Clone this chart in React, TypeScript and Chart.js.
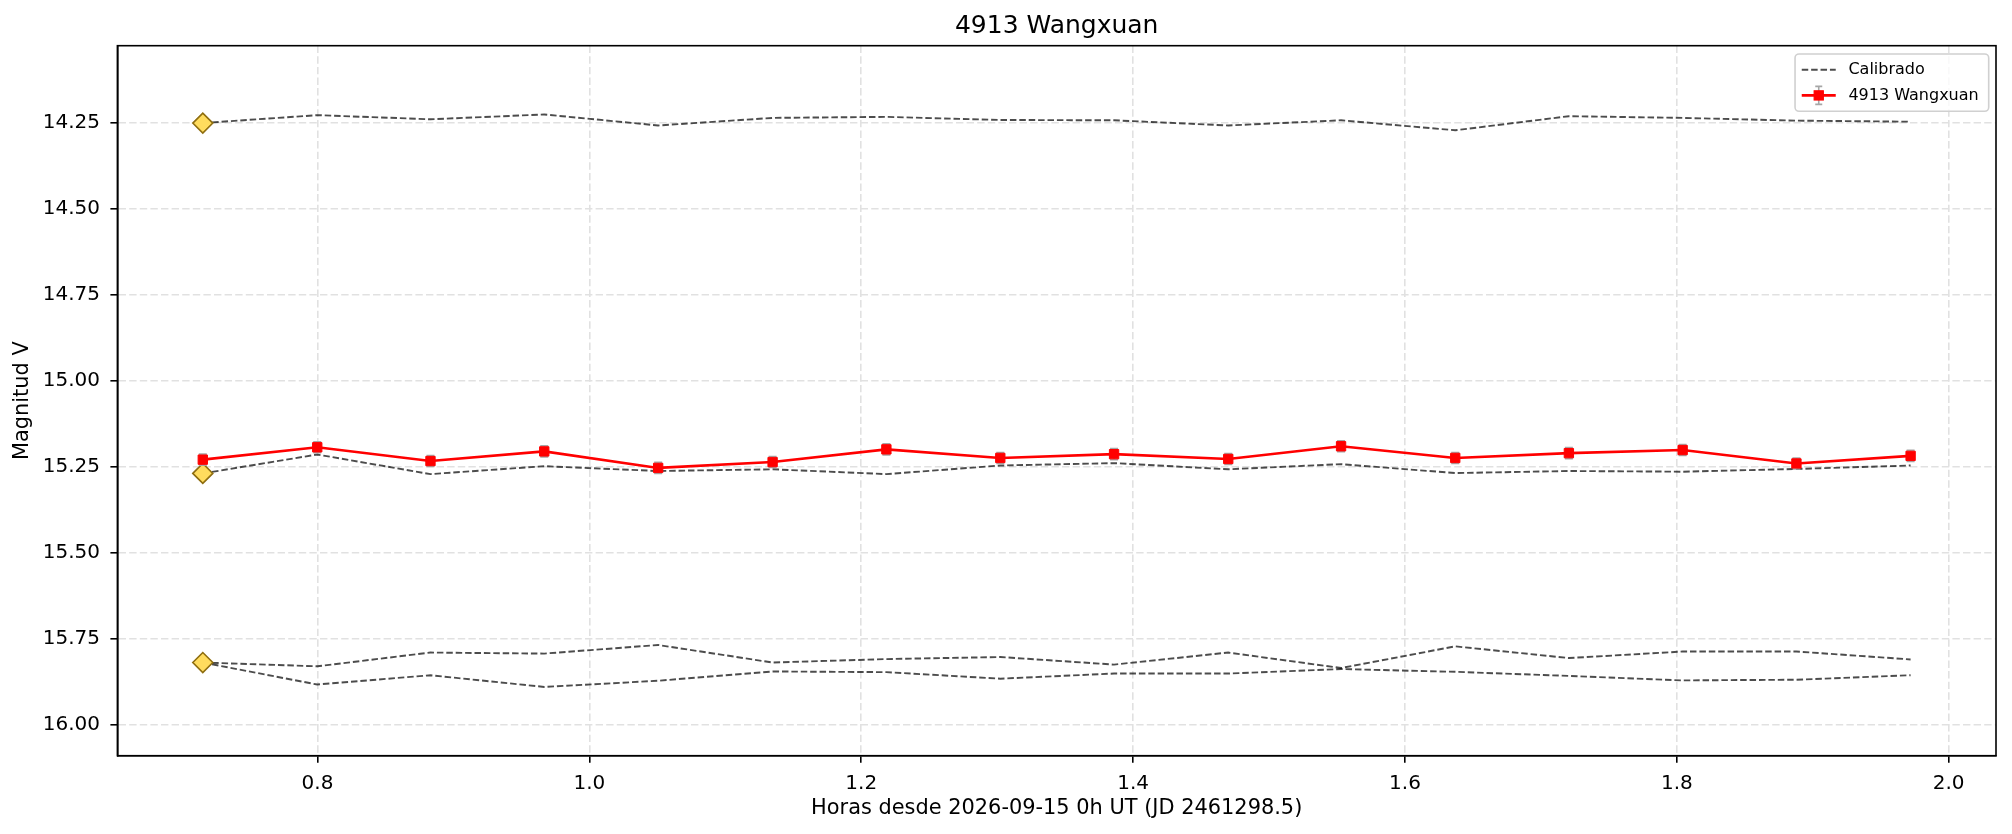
import { useEffect, useRef } from 'react';
import { Chart, registerables } from 'chart.js';

Chart.register(...registerables);

const FONT = "'DejaVu Sans', 'Liberation Sans', sans-serif";

// hours since 2026-09-15 0h UT
const hours = [0.7156, 0.7998, 0.8831, 0.9668, 1.0506, 1.1348, 1.2185, 1.3023, 1.386, 1.47, 1.553, 1.637, 1.7206, 1.8043, 1.888, 1.972];

// 4913 Wangxuan
const targetMag = [15.230, 15.194, 15.234, 15.206, 15.254, 15.237, 15.200, 15.225, 15.214, 15.228, 15.191, 15.225, 15.211, 15.202, 15.241, 15.219];
const targetErr = [0.016, 0.016, 0.016, 0.016, 0.016, 0.016, 0.016, 0.016, 0.016, 0.016, 0.016, 0.016, 0.016, 0.016, 0.016, 0.016];

// calibrated comparison stars
const calTop = [14.251, 14.228, 14.240, 14.226, 14.258, 14.236, 14.233, 14.242, 14.243, 14.258, 14.243, 14.272, 14.231, 14.236, 14.244, 14.247];
const calMid = [15.270, 15.215, 15.272, 15.249, 15.263, 15.258, 15.272, 15.247, 15.240, 15.258, 15.243, 15.269, 15.263, 15.265, 15.257, 15.247];
const calLowA = [15.820, 15.831, 15.791, 15.794, 15.769, 15.820, 15.810, 15.804, 15.826, 15.791, 15.836, 15.773, 15.807, 15.788, 15.788, 15.811];
const calLowB = [15.820, 15.884, 15.857, 15.891, 15.873, 15.846, 15.848, 15.867, 15.852, 15.852, 15.839, 15.847, 15.859, 15.872, 15.870, 15.857];

const CAL_COLOR = 'rgba(0,0,0,0.7)';
const TARGET_COLOR = '#ff0000';
const ERR_COLOR = '#a6a6a6';
const GRID_COLOR = '#e1e1e1';

const toPoints = (ys: number[]) => ys.map((y, i) => ({ x: hours[i], y }));

const allMags = [...targetMag, ...calTop, ...calMid, ...calLowA, ...calLowB];
const yMin = Math.min(...allMags) - 0.2;
const yMax = Math.max(...allMags) + 0.2;
const xSpan = hours[hours.length - 1] - hours[0];
const xMin = hours[0] - 0.05 * xSpan;
const xMax = hours[hours.length - 1] + 0.05 * xSpan;

const extras = {
    id: 'extras',
    beforeDatasetDraw(chart: any, args: any) {
        const ds = chart.data.datasets[args.index];
        if (!ds.errors) return;
        const { ctx, scales } = chart;
        ctx.save();
        ctx.strokeStyle = ERR_COLOR;
        ctx.lineWidth = 1.6;
        hours.forEach((h, i) => {
            const px = scales.x.getPixelForValue(h);
            const y1 = scales.y.getPixelForValue(targetMag[i] - ds.errors[i]);
            const y2 = scales.y.getPixelForValue(targetMag[i] + ds.errors[i]);
            ctx.beginPath();
            ctx.moveTo(px, y1);
            ctx.lineTo(px, y2);
            ctx.moveTo(px - 4, y1);
            ctx.lineTo(px + 4, y1);
            ctx.moveTo(px - 4, y2);
            ctx.lineTo(px + 4, y2);
            ctx.stroke();
        });
        ctx.restore();
    },
    afterDraw(chart: any) {
        const { ctx, chartArea } = chart;
        ctx.save();

        // full frame
        ctx.strokeStyle = '#000';
        ctx.lineWidth = 1.6;
        ctx.strokeRect(chartArea.left, chartArea.top, chartArea.right - chartArea.left, chartArea.bottom - chartArea.top);

        // legend
        const entries = chart.data.datasets.filter((d: any) => d.label && !d.label.startsWith('_'));
        ctx.font = `16px ${FONT}`;
        const textW = Math.max(...entries.map((e: any) => ctx.measureText(e.label).width));
        const padL = 6.7;
        const padR = 10;
        const handleLen = 34;
        const textPad = 12.7;
        const rowH = 25.7;
        const boxW = padL + handleLen + textPad + textW + padR;
        const boxH = 57.3;
        const right = chartArea.right - 7.3;
        const top = chartArea.top + 8.3;
        const left = right - boxW;

        ctx.beginPath();
        ctx.roundRect(left, top, boxW, boxH, 4);
        ctx.fillStyle = 'rgba(255,255,255,0.8)';
        ctx.fill();
        ctx.strokeStyle = '#d0d0d0';
        ctx.lineWidth = 1.6;
        ctx.stroke();

        entries.forEach((ds: any, i: number) => {
            const cy = top + 15.7 + i * rowH;
            const x0 = left + padL;
            const x1 = x0 + handleLen;
            const xc = (x0 + x1) / 2;
            if (ds.errors) {
                ctx.setLineDash([]);
                ctx.strokeStyle = ERR_COLOR;
                ctx.lineWidth = 1.6;
                ctx.beginPath();
                ctx.moveTo(xc, cy - 9);
                ctx.lineTo(xc, cy + 9);
                ctx.moveTo(xc - 3.5, cy - 9);
                ctx.lineTo(xc + 3.5, cy - 9);
                ctx.moveTo(xc - 3.5, cy + 9);
                ctx.lineTo(xc + 3.5, cy + 9);
                ctx.stroke();
            }
            ctx.setLineDash(ds.borderDash || []);
            ctx.strokeStyle = ds.borderColor;
            ctx.lineWidth = ds.borderWidth;
            ctx.beginPath();
            ctx.moveTo(x0, cy);
            ctx.lineTo(x1, cy);
            ctx.stroke();
            ctx.setLineDash([]);
            if (ds.pointRadius > 0) {
                const half = ds.pointRadius * Math.SQRT1_2;
                ctx.fillStyle = ds.pointBackgroundColor;
                ctx.fillRect(xc - half, cy - half, 2 * half, 2 * half);
                ctx.strokeStyle = ds.pointBorderColor;
                ctx.lineWidth = ds.pointBorderWidth;
                ctx.strokeRect(xc - half, cy - half, 2 * half, 2 * half);
            }
            ctx.fillStyle = '#000';
            ctx.textAlign = 'left';
            ctx.textBaseline = 'middle';
            ctx.fillText(ds.label, x1 + textPad, cy);
        });
        ctx.restore();
    },
};

const calLine = (label: string, ys: number[]) => ({
    label,
    data: toPoints(ys),
    borderColor: CAL_COLOR,
    borderWidth: 1.9,
    borderDash: [6.5, 2.9],
    pointRadius: 0,
    tension: 0,
    order: 2,
});

export default function App() {
    const canvasRef = useRef<HTMLCanvasElement>(null);
    const chartRef = useRef<Chart | null>(null);

    useEffect(() => {
        document.body.style.margin = '0';
        if (!canvasRef.current) return;

        if (chartRef.current) {
            chartRef.current.destroy();
        }

        const ctx = canvasRef.current.getContext('2d');
        if (!ctx) return;

        chartRef.current = new Chart(ctx, {
            type: 'line',
            data: {
                datasets: [
                    calLine('Calibrado', calTop),
                    calLine('_nolegend_', calMid),
                    calLine('_nolegend_', calLowA),
                    calLine('_nolegend_', calLowB),
                    {
                        label: '_nolegend_',
                        data: [
                            { x: hours[0], y: calTop[0] },
                            { x: hours[0], y: calMid[0] },
                            { x: hours[0], y: calLowA[0] },
                        ],
                        showLine: false,
                        pointStyle: 'rectRot',
                        pointRadius: 10,
                        pointBackgroundColor: '#ffdc5e',
                        pointBorderColor: '#8f6e10',
                        pointBorderWidth: 1.6,
                        order: 1,
                    },
                    {
                        label: '4913 Wangxuan',
                        data: toPoints(targetMag),
                        errors: targetErr,
                        borderColor: TARGET_COLOR,
                        borderWidth: 2.6,
                        pointStyle: 'rect',
                        pointRadius: 6.6,
                        pointBackgroundColor: TARGET_COLOR,
                        pointBorderColor: TARGET_COLOR,
                        pointBorderWidth: 1,
                        tension: 0,
                        order: 0,
                    } as any,
                ],
            },
            options: {
                animation: false,
                responsive: false,
                maintainAspectRatio: false,
                layout: { padding: { left: 0, right: 16, top: 0, bottom: 0 } },
                plugins: {
                    legend: { display: false },
                    tooltip: { enabled: false },
                    title: {
                        display: true,
                        text: '4913 Wangxuan',
                        fullSize: false,
                        color: '#000',
                        font: { family: FONT, size: 25, weight: 'normal', lineHeight: 1.2 },
                        padding: { top: 11.5, bottom: 4.2 },
                    },
                },
                scales: {
                    x: {
                        type: 'linear',
                        min: xMin,
                        max: xMax,
                        afterFit: (scale: any) => {
                            scale.height = 78.3;
                        },
                        ticks: {
                            stepSize: 0.2,
                            includeBounds: false,
                            autoSkip: false,
                            maxRotation: 0,
                            padding: 8.6,
                            color: '#000',
                            font: { family: FONT, size: 20 },
                            callback: (v: any) => Number(v).toFixed(1),
                        },
                        grid: {
                            color: GRID_COLOR,
                            lineWidth: 1.6,
                            drawTicks: true,
                            tickLength: 7,
                            tickWidth: 1.6,
                            tickColor: '#000',
                            tickBorderDash: [],
                        },
                        border: { display: true, color: '#000', width: 1.6, dash: [7.4, 3.2] },
                        title: {
                            display: true,
                            text: 'Horas desde 2026-09-15 0h UT (JD 2461298.5)',
                            color: '#000',
                            font: { family: FONT, size: 20.9, lineHeight: 1.2 },
                            padding: { top: 0, bottom: 12.7 },
                        },
                    },
                    y: {
                        type: 'linear',
                        reverse: true,
                        min: yMin,
                        max: yMax,
                        afterFit: (scale: any) => {
                            scale.width = 117.4;
                        },
                        ticks: {
                            stepSize: 0.25,
                            includeBounds: false,
                            padding: 10.4,
                            color: '#000',
                            font: { family: FONT, size: 20 },
                            callback: (v: any) => Number(v).toFixed(2),
                        },
                        grid: {
                            color: GRID_COLOR,
                            lineWidth: 1.6,
                            drawTicks: true,
                            tickLength: 7,
                            tickWidth: 1.6,
                            tickColor: '#000',
                            tickBorderDash: [],
                        },
                        border: { display: true, color: '#000', width: 1.6, dash: [7.4, 3.2] },
                        title: {
                            display: true,
                            text: 'Magnitud V',
                            color: '#000',
                            font: { family: FONT, size: 20.9, lineHeight: 1.2 },
                            padding: { top: 10.0, bottom: 0 },
                        },
                    },
                },
            } as any,
            plugins: [extras],
        });

        return () => {
            if (chartRef.current) {
                chartRef.current.destroy();
                chartRef.current = null;
            }
        };
    }, []);

    return (
        <canvas
            ref={canvasRef}
            width={2012}
            height={834}
            style={{ display: 'block', width: '2012px', height: '834px' }}
        />
    );
}
